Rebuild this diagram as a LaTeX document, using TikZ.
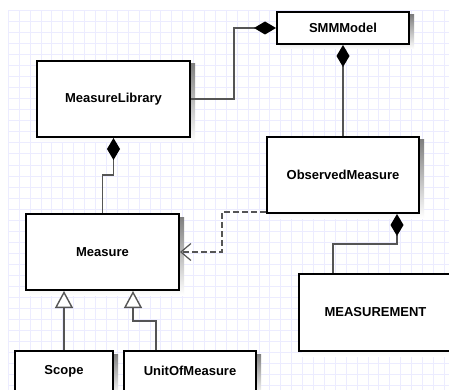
\documentclass[tikz,border=0pt]{standalone}
\usepackage{fontspec}
\setmainfont{Liberation Sans}
\usetikzlibrary{arrows.meta}
\definecolor{gridline}{RGB}{236,236,255}
\definecolor{wire}{RGB}{85,85,85}
\definecolor{shade}{RGB}{175,175,175}
\pgfdeclarelayer{gridlayer}
\pgfdeclarelayer{shadowlayer}
\pgfsetlayers{gridlayer,shadowlayer,main}
\tikzset{
  umlclass/.style={draw=black, line width=2pt, fill=white, inner sep=0pt,
    font=\fontsize{13}{15}\selectfont\bfseries},
  comp/.style={draw=wire, line width=1.4pt, -{Diamond[length=22pt,width=13pt,fill=black,color=black]}},
  gen/.style={draw=wire, line width=1.4pt, -{Triangle[open,length=17pt,width=18pt,fill=white,color=wire]}},
  dep/.style={draw=wire, line width=1.6pt, dash pattern=on 6pt off 3pt,
    -{Straight Barb[length=10pt,width=17pt,line width=1.2pt]}},
}
\begin{document}
\begin{tikzpicture}[x=1pt,y=-1pt]
  \useasboundingbox (0,0) rectangle (449,390);
  \clip (0,0) rectangle (449,390);
  % background grid
  \begin{pgfonlayer}{gridlayer}
    \fill[white] (0,0) rectangle (449,390);
    \foreach \gx in {8.3,19.2,...,449} \draw[gridline, line width=1pt] (\gx,11) -- (\gx,390);
    \foreach \gy in {11,22,...,390} \draw[gridline, line width=1pt] (8.3,\gy) -- (449,\gy);
  \end{pgfonlayer}

  % classes
  \node[umlclass, minimum width=132pt, minimum height=32pt] (smm)  at (343,28)    {SMMModel};
  \node[umlclass, minimum width=153pt, minimum height=76pt] (lib)  at (113.5,99)  {MeasureLibrary};
  \node[umlclass, minimum width=152pt, minimum height=76pt] (obs)  at (343,175)   {ObservedMeasure};
  \node[umlclass, minimum width=153pt, minimum height=76pt] (meas) at (102.5,252) {Measure};
  \node[umlclass, minimum width=153pt, minimum height=77pt] (mnt)  at (375.5,312.5) {MEASUREMENT};
  \node[umlclass, minimum width=98pt,  minimum height=40pt] (scope) at (64,371)   {Scope};
  \node[umlclass, minimum width=132pt, minimum height=40pt] (unit) at (190,371)   {UnitOfMeasure};

  % drop shadows behind the classes (offset right and down)
  \begin{pgfonlayer}{shadowlayer}
    \foreach \n in {smm,lib,obs,meas,mnt,scope,unit}
      \fill[shade] ([shift={(4,4)}]\n.south west) rectangle ([shift={(4,4)}]\n.north east);
  \end{pgfonlayer}

  % compositions
  \draw[comp] (lib.east) -- ++(43,0) |- (smm.west);
  \draw[comp] (obs.north) -- (smm.south);
  \draw[comp] (meas.north) -- ++(0,-38) -| (lib.south);
  \draw[comp] ([xshift=-42.5pt]mnt.north) -- ++(0,-29) -| ([xshift=54pt]obs.south);

  % dependency
  \draw[dep] ([yshift=2pt]obs.south west) -- ++(-44,0) |- (meas.east);

  % generalizations
  \draw[gen] (scope.north) -- (scope.north |- meas.south);
  \draw[gen] ([xshift=-34pt]unit.north) -- ++(0,-29) -| ([xshift=30.5pt]meas.south);
\end{tikzpicture}
\end{document}
